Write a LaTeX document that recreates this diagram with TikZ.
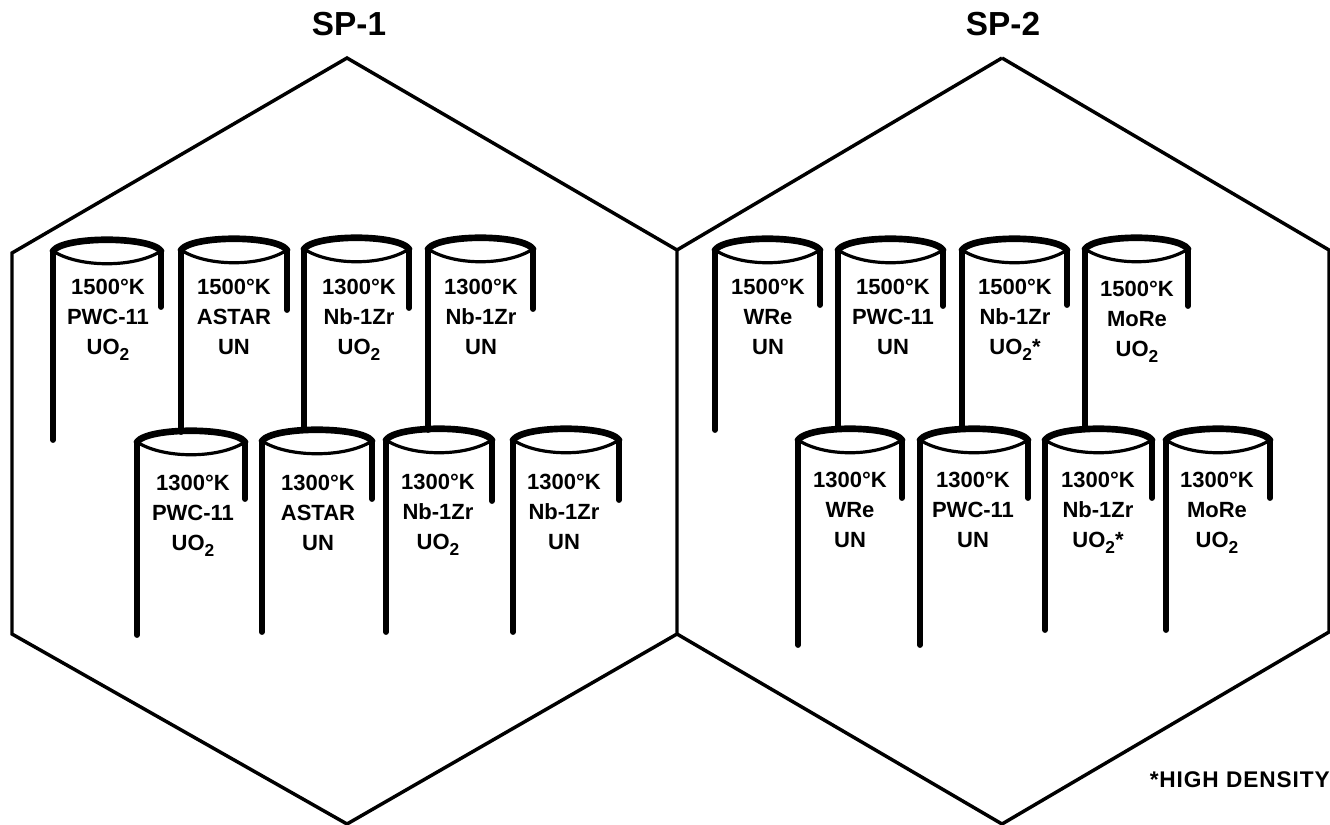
\documentclass[tikz,border=0pt]{standalone}
\usepackage{fontspec}
\setmainfont{Liberation Sans}
\tikzset{
  hexline/.style={line width=2.6pt,line join=miter},
  rimtop/.style={line width=5pt,line cap=round},
  rimlow/.style={line width=2.4pt,line cap=round},
  leg/.style={line width=4.4pt,line cap=round},
  lab/.style={font=\bfseries\fontsize{16.5}{22.3}\selectfont,inner sep=0pt,anchor=center,align=center},
  title/.style={font=\bfseries\fontsize{25}{25}\selectfont,inner sep=0pt,anchor=center}
}
% #1 name, #2 left x, #3 right x, #4 rim y, #5 left end y, #6 right end y, #7 text cx, #8 t y, #9 lines
\newcommand{\cyl}[9]{%
  \draw[rimtop] (#2,#4) .. controls (#2+11,#4-15) and (#3-11,#4-15) .. (#3,#4);
  \draw[rimlow] (#2,#4) .. controls (#2+26,#4+17) and (#3-26,#4+17) .. (#3,#4);
  \draw[leg] (#2,#4) -- (#2,#5);
  \draw[leg] (#3,#4) -- (#3,#6);
  \node[lab] (#1) at (#7,#8) {#9};
}
\newcommand{\tl}[3]{#1\\#2\\#3}
\newcommand{\uoo}{UO\smash{\raisebox{-5pt}{\fontsize{13}{13}\selectfont 2}}}
\newcommand{\uoos}{UO\smash{\raisebox{-5pt}{\fontsize{13}{13}\selectfont 2}}\smash{*}}
\begin{document}
\begin{tikzpicture}[x=0.75pt,y=-0.75pt]
\useasboundingbox (0,0) rectangle (1330,824);
\draw[hexline] (347,58) -- (12,253) -- (12,634) -- (347,824) -- (677,634) -- (677,250) -- cycle;
\draw[hexline] (1002,58) -- (677,250);
\draw[hexline] (1002,58) -- (1329,250) -- (1329,632) -- (1002,824) -- (677,634);
\node[title] (sp1) at (349,24) {SP-1};
\node[title] (sp2) at (1003,24) {SP-2};
\cyl{a1}{53}{161}{251}{440}{307}{108}{317}{\tl{1500°K}{PWC-11}{\uoo}}
\cyl{a2}{181}{287}{250}{432}{310}{234}{317}{\tl{1500°K}{ASTAR}{UN}}
\cyl{a3}{304}{409}{249}{430}{308}{359}{317}{\tl{1300°K}{Nb-1Zr}{\uoo}}
\cyl{a4}{428}{533}{249}{430}{309}{481}{317}{\tl{1300°K}{Nb-1Zr}{UN}}
\cyl{b1}{137}{245}{442}{635}{499}{193}{513}{\tl{1300°K}{PWC-11}{\uoo}}
\cyl{b2}{262}{372}{441}{632}{499}{318}{513}{\tl{1300°K}{ASTAR}{UN}}
\cyl{b3}{386}{492}{440}{632}{501}{438}{512}{\tl{1300°K}{Nb-1Zr}{\uoo}}
\cyl{b4}{513}{619}{440}{632}{500}{564}{512}{\tl{1300°K}{Nb-1Zr}{UN}}
\cyl{c1}{715}{820}{250}{430}{305}{768}{317}{\tl{1500°K}{WRe}{UN}}
\cyl{c2}{838}{943}{250}{428}{306}{893}{317}{\tl{1500°K}{PWC-11}{UN}}
\cyl{c3}{962}{1067}{250}{428}{305}{1015}{317}{\tl{1500°K}{Nb-1Zr}{\uoos}}
\cyl{c4}{1085}{1188}{249}{428}{306}{1137}{319}{\tl{1500°K}{MoRe}{\uoo}}
\cyl{d1}{798}{902}{440}{645}{498}{850}{510}{\tl{1300°K}{WRe}{UN}}
\cyl{d2}{920}{1028}{440}{645}{498}{973}{510}{\tl{1300°K}{PWC-11}{UN}}
\cyl{d3}{1045}{1152}{440}{630}{498}{1098}{510}{\tl{1300°K}{Nb-1Zr}{\uoos}}
\cyl{d4}{1166}{1270}{440}{630}{498}{1217}{510}{\tl{1300°K}{MoRe}{\uoo}}
\node[font=\bfseries\fontsize{17}{17}\selectfont\addfontfeature{LetterSpace=4},inner sep=0pt,anchor=east] (note) at (1330,780) {*HIGH DENSITY};
\end{tikzpicture}
\end{document}
